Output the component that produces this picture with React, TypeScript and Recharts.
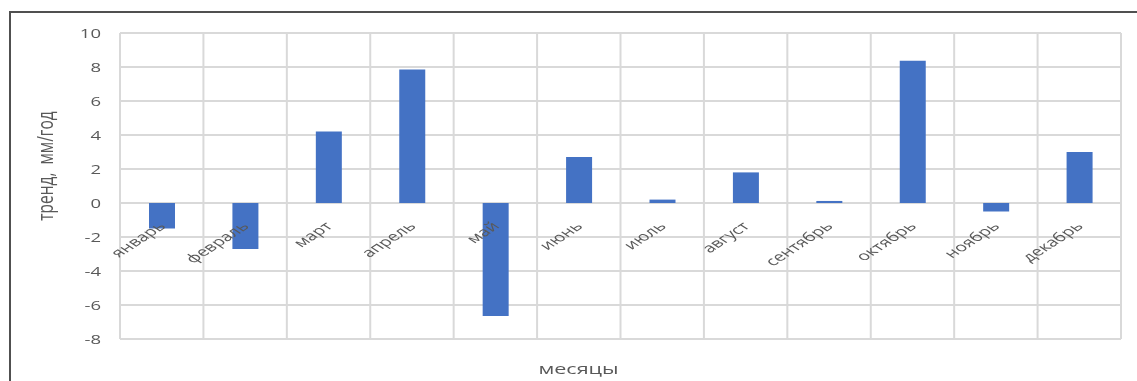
import { Bar, BarChart, CartesianGrid, Label, XAxis, YAxis } from "recharts";

const months = [
  "январь",
  "февраль",
  "март",
  "апрель",
  "май",
  "июнь",
  "июль",
  "август",
  "сентябрь",
  "октябрь",
  "ноябрь",
  "декабрь",
];
const trend = [-1.5, -2.7, 4.2, 7.85, -6.65, 2.7, 0.2, 1.8, 0.12, 8.37, -0.5, 3.0];
const yTicks = [-8, -6, -4, -2, 0, 2, 4, 6, 8, 10];

const data = months.map((month, i) => ({ month, trend: trend[i] }));

const Y_MIN = -8;
const Y_MAX = 10;
const CHART_W = 1129;
const CHART_H = 373;
const MARGIN = { top: 25, right: 16, left: 0, bottom: 0 };
const X_AXIS_H = 42;
const PLOT_H = CHART_H - MARGIN.top - MARGIN.bottom - X_AXIS_H;
// distance from the plot bottom up to the zero line
const ZERO_UP = (PLOT_H * (0 - Y_MIN)) / (Y_MAX - Y_MIN);

const FONT = "'Open Sans', 'Noto Sans', sans-serif";
const TEXT = "#595959";
const GRID = "#d9d9d9";
// all lettering is drawn stretched sideways
const WIDE = 1.54;

// Month labels hang just under the zero line, slanted up to the right
function MonthTick(props: any) {
  const { x, y, payload } = props;
  const tx = x + 5;
  const ty = y - ZERO_UP + 24;
  return (
    <text
      textAnchor="end"
      fill={TEXT}
      fontSize={12.5}
      fontFamily={FONT}
      transform={`translate(${tx} ${ty}) scale(${WIDE} 1) rotate(-45)`}
    >
      {payload.value}
    </text>
  );
}

function ValueTick(props: any) {
  const { x, y, payload } = props;
  return (
    <text
      textAnchor="end"
      dominantBaseline="central"
      fill={TEXT}
      fontSize={12}
      fontFamily={FONT}
      transform={`translate(${x} ${y}) scale(${WIDE} 1)`}
    >
      {payload.value}
    </text>
  );
}

function XTitle(props: any) {
  const { viewBox } = props;
  const cx = viewBox.x + viewBox.width / 2 - 42;
  const cy = viewBox.y + viewBox.height - 7;
  return (
    <text
      textAnchor="middle"
      fill={TEXT}
      fontSize={14}
      fontFamily={FONT}
      transform={`translate(${cx} ${cy}) scale(${WIDE} 1)`}
    >
      месяцы
    </text>
  );
}

function YTitle(props: any) {
  const { viewBox } = props;
  const cx = viewBox.x + 45;
  const cy = viewBox.y + viewBox.height / 2 - 20;
  return (
    <text
      textAnchor="middle"
      fill={TEXT}
      fontSize={15.5}
      fontFamily={FONT}
      style={{ whiteSpace: "pre" }}
      transform={`translate(${cx} ${cy}) scale(1.35 1) rotate(-90)`}
    >
      {"тренд,  мм/год"}
    </text>
  );
}

export default function App() {
  return (
    <div>
      <div
        style={{
          position: "fixed",
          left: 9,
          top: 11,
          right: -20,
          bottom: -20,
          borderLeft: "2px solid #505050",
          borderTop: "2px solid #505050",
          pointerEvents: "none",
        }}
      />
      <BarChart width={CHART_W} height={CHART_H} data={data} margin={MARGIN} barSize={26}>
        <CartesianGrid
          stroke={GRID}
          strokeWidth={2}
          horizontalValues={yTicks}
          verticalCoordinatesGenerator={({ offset }: any) =>
            months
              .map((_, i) => offset.left + (offset.width * i) / months.length)
              .concat(offset.left + offset.width)
          }
        />
        <XAxis
          dataKey="month"
          height={X_AXIS_H}
          axisLine={false}
          tickLine={false}
          tickSize={0}
          tickMargin={0}
          interval={0}
          tick={<MonthTick />}
        >
          <Label content={<XTitle />} />
        </XAxis>
        <YAxis
          width={112}
          domain={[Y_MIN, Y_MAX]}
          ticks={yTicks}
          axisLine={false}
          tickLine={false}
          tickMargin={13}
          tick={<ValueTick />}
        >
          <Label content={<YTitle />} />
        </YAxis>
        <Bar dataKey="trend" fill="#4472c4" isAnimationActive={false} />
      </BarChart>
    </div>
  );
}
